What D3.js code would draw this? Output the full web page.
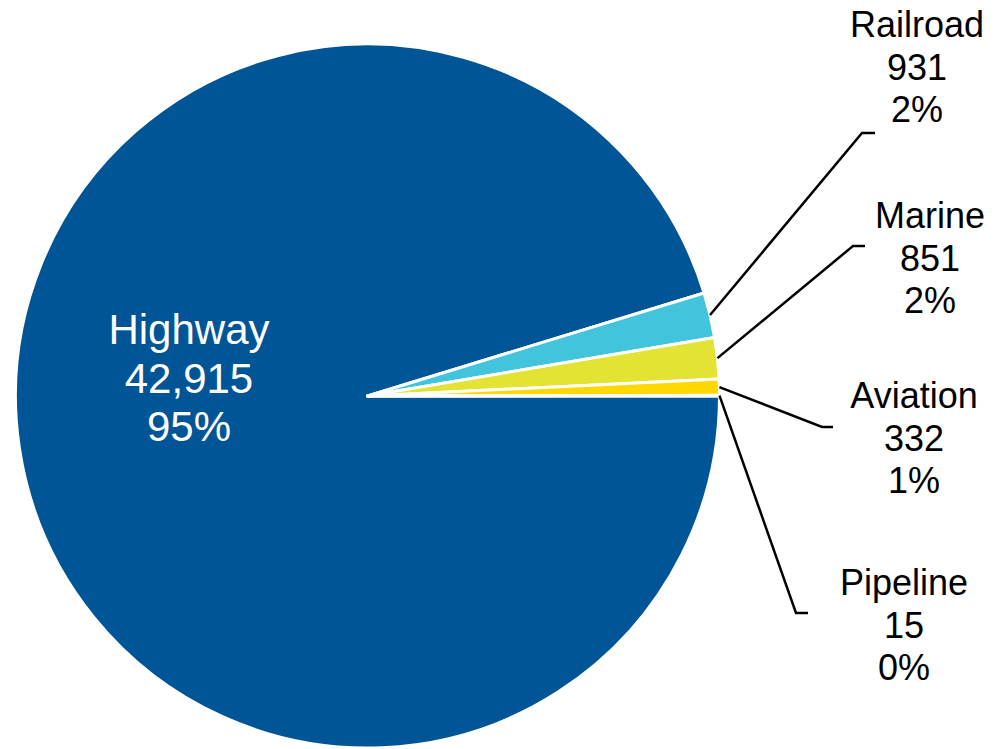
<!DOCTYPE html>
<html>
<head>
<meta charset="utf-8">
<script src="https://cdn.jsdelivr.net/npm/d3@7"></script>
<style>
  html, body { margin: 0; padding: 0; background: #fff; }
  svg { display: block; }
  text { font-family: "Liberation Sans", Arial, sans-serif; }
</style>
</head>
<body>
<svg id="chart" width="995" height="749"></svg>
<script>
const categories = ["Highway", "Railroad", "Marine", "Aviation", "Pipeline"];
const values = [42915, 931, 851, 332, 15];
const percentLabels = ["95%", "2%", "2%", "1%", "0%"];
const colors = ["#005596", "#42C4DD", "#E2E332", "#FFD800", "#F5A800"];

// label anchors (text centre + leader elbow) for the outside labels
const labelPos = {
  Railroad: { x: 917, y: 37, elbow: [862, 133], end: [875, 133] },
  Marine:   { x: 930, y: 228, elbow: [853, 246], end: [865, 246] },
  Aviation: { x: 914, y: 408, elbow: [822, 427], end: [833, 427] },
  Pipeline: { x: 904, y: 595, elbow: [796, 613], end: [808, 613] }
};

const svg = d3.select("#chart");
const cx = 367.5, cy = 396, r = 352;
const g = svg.append("g").attr("transform", `translate(${cx},${cy})`);

const data = categories.map((c, i) => ({ name: c, value: values[i], pct: percentLabels[i], color: colors[i] }));

const pie = d3.pie().value(d => d.value).sort(null)
  .startAngle(Math.PI / 2).endAngle(Math.PI / 2 + 2 * Math.PI);
const arcs = pie(data);
const arc = d3.arc().innerRadius(0).outerRadius(r);

g.selectAll("path.slice").data(arcs).enter().append("path")
  .attr("class", "slice")
  .attr("d", arc)
  .attr("fill", d => d.data.color)
  .attr("stroke", "#fff")
  .attr("stroke-width", 3)
  .attr("stroke-linejoin", "round");

const fmt = d3.format(",");

// Highway label inside
const hw = arcs[0];
const hwText = svg.append("text")
  .attr("text-anchor", "middle")
  .attr("fill", "#fff")
  .attr("font-size", 42);
[hw.data.name, fmt(hw.data.value), hw.data.pct].forEach((t, i) => {
  hwText.append("tspan").attr("x", 189).attr("y", 344 + i * 48.5).text(t);
});

// outside labels with leader lines
arcs.slice(1).forEach(a => {
  const p = labelPos[a.data.name];
  const mid = (a.startAngle + a.endAngle) / 2;
  const sx = cx + Math.sin(mid) * r, sy = cy - Math.cos(mid) * r;
  svg.append("polyline")
    .attr("points", [[sx, sy], p.elbow, p.end].map(q => q.join(",")).join(" "))
    .attr("fill", "none")
    .attr("stroke", "#000")
    .attr("stroke-width", 2.5);
  const t = svg.append("text")
    .attr("text-anchor", "middle")
    .attr("fill", "#000")
    .attr("font-size", 36);
  [a.data.name, fmt(a.data.value), a.data.pct].forEach((s, i) => {
    t.append("tspan").attr("x", p.x).attr("y", p.y + i * 42.5).text(s);
  });
});
</script>
</body>
</html>
